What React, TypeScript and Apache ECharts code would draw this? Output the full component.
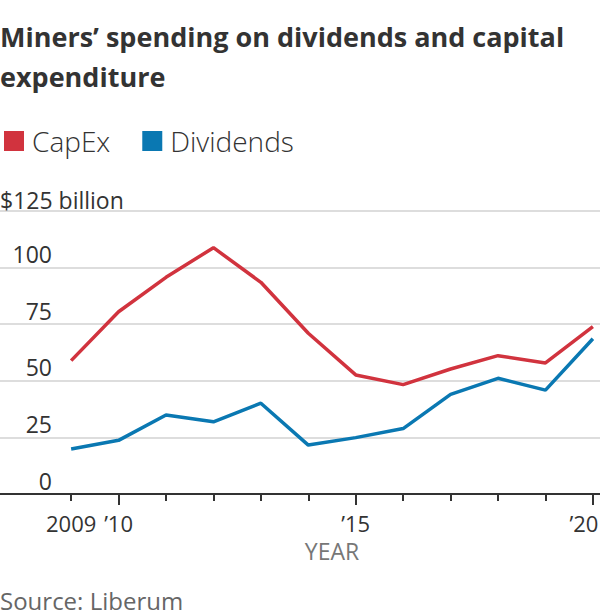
import React, { useEffect, useRef } from "react";
import * as echarts from "echarts";

const years = [2009, 2010, 2011, 2012, 2013, 2014, 2015, 2016, 2017, 2018, 2019, 2020];
const capex = [58.9, 80.5, 95.7, 108.8, 93.5, 71.0, 52.6, 48.3, 55.2, 61.1, 57.9, 73.9];
const dividends = [19.9, 23.7, 34.9, 31.9, 40.1, 21.6, 24.9, 28.9, 44.0, 51.1, 45.9, 68.6];
const xLabelYears = [2009, 2010, 2015, 2020];
const xLabelTexts = ["2009", "\u201910", "\u201915", "\u201920"];
const xMajorTicks = [2010, 2015, 2020];
const yTicks = [0, 25, 50, 75, 100];
const yTopTick = 125;
const yTopLabel = "$125 billion";

const FONT = "'Open Sans', 'Noto Sans', sans-serif";
const TEXT = "#333333";

export default function App() {
  const ref = useRef<HTMLDivElement>(null);

  useEffect(() => {
    document.body.style.margin = "0";
    if (!ref.current) return;
    const chart = echarts.init(ref.current, undefined, { renderer: "svg" });
    const xMin = 2007.5;
    const xMax = 2020.15;
    const lastYear = xLabelYears[xLabelYears.length - 1];
    chart.setOption({
      animation: false,
      backgroundColor: "#ffffff",
      title: {
        text: "Miners\u2019 spending on dividends and capital\nexpenditure",
        left: 0,
        top: 16,
        padding: 0,
        textStyle: {
          fontFamily: FONT,
          fontWeight: "bold",
          fontSize: 27,
          lineHeight: 40,
          color: TEXT,
        },
      },
      legend: {
        left: 4,
        top: 127,
        padding: 0,
        icon: "rect",
        itemWidth: 20,
        itemHeight: 20,
        itemGap: 32,
        textStyle: {
          fontFamily: FONT,
          fontSize: 28,
          fontWeight: 300,
          color: TEXT,
          padding: [0, 0, 0, 3],
        },
        data: ["CapEx", "Dividends"],
      },
      grid: {
        left: 0,
        right: 0,
        top: 211,
        bottom: 122,
        containLabel: false,
        outerBoundsMode: "none",
      },
      xAxis: [
        {
          type: "value",
          min: xMin,
          max: xMax,
          axisLine: { show: true, onZero: false, lineStyle: { color: TEXT, width: 2 } },
          axisTick: { show: true, customValues: years, length: 7, lineStyle: { color: TEXT, width: 2 } },
          axisLabel: { show: false },
          splitLine: { show: false },
        },
        {
          type: "value",
          position: "bottom",
          min: xMin,
          max: xMax,
          axisLine: { show: false },
          axisTick: { show: true, customValues: xMajorTicks, length: 11, lineStyle: { color: TEXT, width: 2 } },
          axisLabel: {
            show: true,
            customValues: xLabelYears,
            formatter: (v: number) => {
              const y = Math.round(v);
              const i = xLabelYears.indexOf(y);
              if (i < 0) return "";
              return y === lastYear ? "{r|" + xLabelTexts[i] + "}" : xLabelTexts[i];
            },
            rich: {
              r: {
                fontFamily: FONT,
                fontSize: 22,
                color: TEXT,
                padding: [0, 18, 0, 0],
              },
            },
            fontFamily: FONT,
            fontSize: 22,
            color: TEXT,
            margin: 18,
          },
          splitLine: { show: false },
        },
      ],
      yAxis: [
        {
          type: "value",
          min: 0,
          max: 125,
          interval: 25,
          axisLine: { show: false },
          axisTick: { show: false },
          splitLine: { show: true, lineStyle: { color: "#dddddd", width: 2 } },
          axisLabel: {
            show: true,
            inside: true,
            customValues: yTicks,
            align: "right",
            verticalAlign: "bottom",
            margin: 52,
            fontFamily: FONT,
            fontSize: 23,
            color: TEXT,
            padding: [0, 0, 2, 0],
          },
        },
        {
          type: "value",
          position: "left",
          min: 0,
          max: 125,
          axisLine: { show: false },
          axisTick: { show: false },
          splitLine: { show: false },
          axisLabel: {
            show: true,
            inside: true,
            customValues: [yTopTick],
            formatter: () => yTopLabel,
            align: "left",
            verticalAlign: "bottom",
            margin: 0,
            fontFamily: FONT,
            fontSize: 23,
            color: TEXT,
          },
        },
      ],
      graphic: [
        {
          type: "text",
          x: 332,
          y: 551,
          style: {
            text: "YEAR",
            fontFamily: FONT,
            fontSize: 23,
            fill: "#777777",
            align: "center",
            verticalAlign: "middle",
          },
        },
        {
          type: "text",
          x: 0,
          y: 600,
          style: {
            text: "Source: Liberum",
            fontFamily: FONT,
            fontSize: 24,
            fill: "#666666",
            align: "left",
            verticalAlign: "middle",
          },
        },
      ],
      series: [
        {
          name: "CapEx",
          type: "line",
          data: years.map((y, i) => [y, capex[i]]),
          symbol: "none",
          color: "#d1333e",
          lineStyle: { width: 3.5, color: "#d1333e" },
          z: 3,
        },
        {
          name: "Dividends",
          type: "line",
          data: years.map((y, i) => [y, dividends[i]]),
          symbol: "none",
          color: "#0a78b2",
          lineStyle: { width: 3.5, color: "#0a78b2" },
          z: 3,
        },
      ],
    });
    return () => chart.dispose();
  }, []);

  return <div ref={ref} style={{ width: 600, height: 616 }} />;
}
